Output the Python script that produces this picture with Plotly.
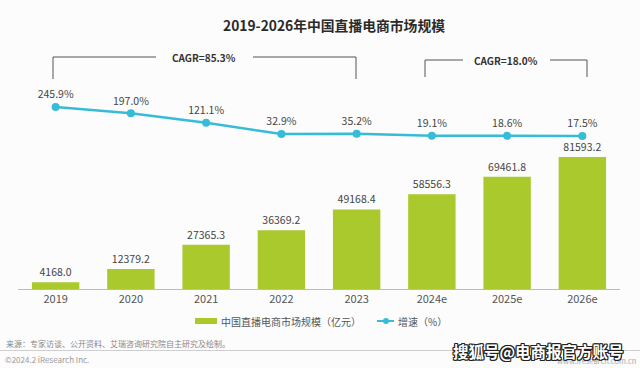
import plotly.graph_objects as go

categories = ["2019", "2020", "2021", "2022", "2023", "2024e", "2025e", "2026e"]
market_size = [4168.0, 12379.2, 27365.3, 36369.2, 49168.4, 58556.3, 69461.8, 81593.2]
growth_rate = [245.9, 197.0, 121.1, 32.9, 35.2, 19.1, 18.6, 17.5]

title_text = "2019-2026年中国直播电商市场规模"
bar_name = "中国直播电商市场规模（亿元）"
line_name = "增速（%）"
cagr_left = "CAGR=85.3%"
cagr_right = "CAGR=18.0%"
source_text = "来源：专家访谈、公开资料、艾瑞咨询研究院自主研究及绘制。"
copyright_text = "©2024.2 iResearch Inc."
site_text = "www.iresearch.com.cn"
watermark_text = "搜狐号@电商报官方账号"

W_FIG, H_FIG = 640, 368
L, R, T, B = 18, 20, 60, 79
PW = W_FIG - L - R
PH = H_FIG - T - B
BOTTOM = H_FIG - B

def px(x):
    return (x - L) / PW

def py(y):
    return (BOTTOM - y) / PH

FONT = "Noto Sans CJK SC, Noto Sans, sans-serif"
GREEN = "#a9c92c"
CYAN = "#36bcd6"

fig = go.Figure()
fig.add_trace(go.Bar(
    x=categories, y=market_size, name=bar_name,
    marker=dict(color=GREEN, line=dict(width=0)),
    text=[f"{v:.1f}" for v in market_size], textposition="outside",
    textfont=dict(size=10.5, color="#444", family=FONT),
    cliponaxis=False, yaxis="y", showlegend=False,
))
fig.add_trace(go.Scatter(
    x=categories, y=growth_rate, name=line_name, mode="lines+markers+text",
    line=dict(color=CYAN, width=2.5), marker=dict(color=CYAN, size=8),
    text=[f"{v:.1f}%" for v in growth_rate], textposition="top center",
    textfont=dict(size=10.5, color="#444", family=FONT),
    cliponaxis=False, yaxis="y2", showlegend=False,
))

slope = 29 / 228.4
zero_from_bottom = (BOTTOM - 136) - 17.5 * slope
y2min = -zero_from_bottom / slope
y2max = (PH - zero_from_bottom) / slope
y1max = PH * 81593.2 / 132

shapes = []
line_style = dict(color="#555", width=1)
for seg in [((53, 57), (156, 57)), ((253, 57), (356, 57)), ((53, 57), (53, 79)), ((356, 57), (356, 79))]:
    (x0, y0), (x1, y1) = seg
    shapes.append(dict(type="line", xref="paper", yref="paper", x0=px(x0), y0=py(y0), x1=px(x1), y1=py(y1), line=line_style))
for seg in [((425, 60), (463, 60)), ((550, 60), (587, 60)), ((425, 60), (425, 77)), ((587, 60), (587, 77))]:
    (x0, y0), (x1, y1) = seg
    shapes.append(dict(type="line", xref="paper", yref="paper", x0=px(x0), y0=py(y0), x1=px(x1), y1=py(y1), line=line_style))
shapes.append(dict(type="rect", xref="paper", yref="paper", x0=px(195), x1=px(217), y0=py(318), y1=py(324), fillcolor=GREEN, line=dict(width=0)))
shapes.append(dict(type="line", xref="paper", yref="paper", x0=px(377), x1=px(394), y0=py(321), y1=py(321), line=dict(color=CYAN, width=2)))
shapes.append(dict(type="circle", xref="paper", yref="paper", x0=px(383), x1=px(389), y0=py(318), y1=py(324), fillcolor=CYAN, line=dict(width=0)))
shapes.append(dict(type="line", xref="paper", yref="paper", x0=px(0), x1=px(640), y0=py(350.5), y1=py(350.5), line=dict(color="#cfcfcf", width=1)))

def ann(text, x, y, size, color="#444", xanchor="center", bold=False, **kw):
    t = f"<b>{text}</b>" if bold else text
    d = dict(text=t, xref="paper", yref="paper", x=px(x), y=py(y), xanchor=xanchor, yanchor="middle",
             showarrow=False, font=dict(size=size, color=color, family=FONT))
    d.update(kw)
    return d

annotations = [
    ann(title_text, 334, 25, 13.8, color="#2a2a2a", bold=True),
    ann(cagr_left, 204, 57, 10, color="#333", bold=True),
    ann(cagr_right, 506, 60, 10, color="#333", bold=True),
    ann(bar_name, 219, 321, 10, color="#555", xanchor="left"),
    ann(line_name, 396, 321, 10, color="#555", xanchor="left"),
    ann(source_text, 4, 343, 8, color="#888", xanchor="left"),
    ann(copyright_text, 3, 359, 8, color="#999", xanchor="left"),
    ann(site_text, 638, 360, 7.5, color="#aaa", xanchor="right"),
]
wm = ann(watermark_text, 538, 351, 15.5, color="#ffffff", bold=True)
wm["font"]["shadow"] = "1px 1px 0 #222, -1px -1px 0 #222, 1px -1px 0 #222, -1px 1px 0 #222, 0 1px 0 #222, 0 -1px 0 #222, 1px 0 0 #222, -1px 0 0 #222"
annotations.append(wm)

fig.update_layout(
    width=W_FIG, height=H_FIG,
    margin=dict(l=L, r=R, t=T, b=B),
    paper_bgcolor="#fcfcfd", plot_bgcolor="#fcfcfd",
    bargap=0.37,
    font=dict(family=FONT),
    xaxis=dict(type="category", showline=True, linecolor="#bbbbbb", linewidth=1, ticks="",
               showgrid=False, tickfont=dict(size=11, color="#555", family=FONT)),
    yaxis=dict(range=[0, y1max], visible=False, showgrid=False, zeroline=False),
    yaxis2=dict(range=[y2min, y2max], overlaying="y", visible=False, showgrid=False, zeroline=False),
    shapes=shapes, annotations=annotations, showlegend=False,
)

fig.write_html("out.html", config={"displayModeBar": False},
               post_script="document.body.style.margin='0';document.body.style.overflow='hidden';")
